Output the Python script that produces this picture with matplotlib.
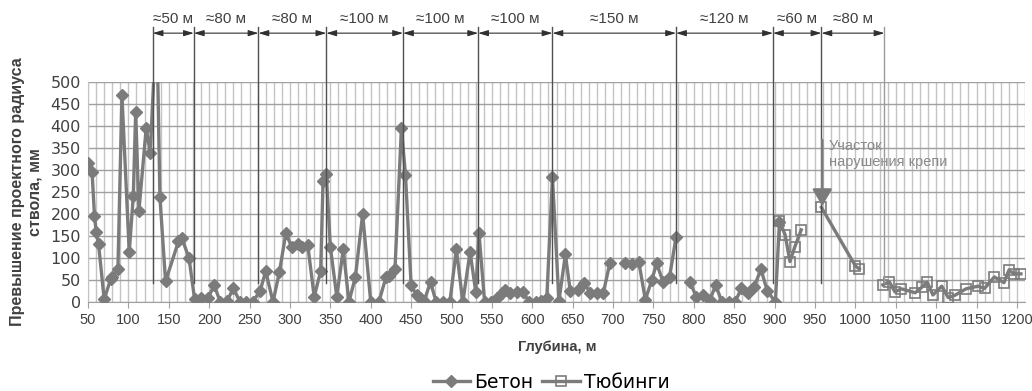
import numpy as np
import matplotlib.pyplot as plt
from matplotlib.ticker import MultipleLocator

plt.rcParams['font.family'] = ['Liberation Sans', 'DejaVu Sans']

# depth, m / excess over design radius, mm  (None = gap in the series)
beton_depth = [50, 55, 58, 60, 63, 70, 78, 80, 87, 92, 101, 106, 109, 113, 122, 127, 135, 139,
               146, 162, 166, 175, 182, 190, 199, 206, 214, 222, 230, 238, 246, 254, 263, 270,
               279, 287, 295, 302, 310, 315, 322, 330, 338, 341, 345, 350, 358, 366, 373, 381,
               390, 400, 410, 419, 422, 430, 438, 443, 450, 457, 461, 466, 474, 481, 490, 498,
               506, 514, 523, 530, 534, 541, 549, 556, 562, 566, 573, 581, 589, 596, 605, 611,
               618, 625, 633, 641, 647, 656, 664, 672, 680, 688, 696, 705, 715, 724, 732, 740,
               748, 754, 762, 770, 778, 786, 795, 803, 811, 820, 827, 835, 844, 851, 859, 867,
               875, 883, 891, 901, 906]
beton_excess = [315, 295, 196, 160, 132, 6, 52, 57, 75, 470, 113, 240, 432, 207, 395, 338, 650, 238,
                47, 138, 146, 100, 6, 8, 10, 38, 0, 2, 31, 1, 0, 1, 25, 70,
                0, 69, 157, 125, 132, 125, 130, 12, 70, 276, 290, 125, 12, 120, 0, 57,
                200, 0, 0, 57, 60, 75, 395, 289, 38, 15, 8, 2, 45, 0, 0, 0,
                120, 0, 114, 23, 157, 0, 0, 10, 20, 27, 20, 22, 22, 0, 0, 3,
                10, 283, 2, 108, 25, 27, 44, 20, 21, 21, 88, None, 88, 86, 90, 5,
                50, 88, 45, 57, 148, None, 46, 12, 15, 5, 38, 0, 0, 0, 31, 20,
                35, 75, 25, 0, 182]

tub_depth = [906, 913, 919, 925, 933, 945, 958, 1000, 1005, 1020, 1034, 1042, 1049, 1057, 1074,
             1082, 1089, 1096, 1107, 1115, 1123, 1137, 1152, 1160, 1172, 1184, 1190, 1197, 1205]
tub_excess = [183, 153, 92, 125, 164, None, 215, 82, 75, None, 39, 46, 23, 30, 21,
              33, 45, 16, 36, 10, 15, 30, 36, 31, 57, 44, 72, 64, 64]

bound_depth = [130, 181, 261, 345, 440, 533, 625, 778, 898, 958, 1036]
span_labels = ['≈50 м', '≈80 м', '≈80 м', '≈100 м', '≈100 м', '≈100 м',
               '≈150 м', '≈120 м', '≈60 м', '≈80 м']

beton_excess = np.array(beton_excess, dtype=float)
tub_excess = np.array(tub_excess, dtype=float)

grey = '#7b7b7b'
dark = '#404040'

fig = plt.figure(figsize=(10.32, 3.91), dpi=100)
ax = fig.add_axes([0.0853, 0.2276, 0.9079, 0.5627])

ax.plot(beton_depth, beton_excess, color=grey, lw=2.4, marker='D', ms=6.5,
        mfc=grey, mec=grey, label='Бетон', zorder=3)
ax.plot(tub_depth, tub_excess, color=grey, lw=2.4, marker='s', ms=7.5,
        mfc='none', mec=grey, mew=1.2, label='Тюбинги', zorder=3)

ax.set_xlim(50, 1210)
ax.set_ylim(0, 500)
ax.xaxis.set_major_locator(MultipleLocator(50))
ax.xaxis.set_minor_locator(MultipleLocator(10))
ax.yaxis.set_major_locator(MultipleLocator(50))
ax.grid(which='major', axis='y', color='#a0a0a0', lw=1)
ax.grid(which='both', axis='x', color='#c4c4c4', lw=1)
ax.set_axisbelow(True)
for s in ['top', 'right']:
    ax.spines[s].set_visible(False)
ax.spines['left'].set_color('#c4c4c4')
ax.spines['bottom'].set_color('#a0a0a0')
ax.tick_params(axis='x', which='major', length=4, color='#a0a0a0',
               labelsize=10.5, labelcolor=dark, pad=4)
ax.tick_params(axis='x', which='minor', length=0)
ax.tick_params(axis='y', length=0, labelcolor=dark, pad=5)
for t in ax.get_yticklabels():
    t.set_fontfamily('DejaVu Sans')
    t.set_fontsize(11.5)

# section boundaries and dimension arrows above the chart
for i, d in enumerate(bound_depth):
    c = '#9a9a9a' if i == len(bound_depth) - 1 else '#505050'
    ax.plot([d, d], [43, 625], color=c, lw=1, clip_on=False, zorder=4)
for a, b, lab in zip(bound_depth[:-1], bound_depth[1:], span_labels):
    ax.annotate('', xy=(b, 611), xytext=(a, 611), annotation_clip=False,
                arrowprops=dict(arrowstyle='<|-|>,head_length=0.6,head_width=0.18',
                                color='#303030', lw=0.8, mutation_scale=10,
                                shrinkA=0, shrinkB=0))
    ax.text((a + b) / 2, 643, lab, ha='center', va='center', fontsize=11,
            color=dark, clip_on=False)

# damaged lining note
ax.annotate('', xy=(959, 218), xytext=(959, 368),
            arrowprops=dict(arrowstyle='-|>,head_length=0.85,head_width=0.5',
                            color=grey, lw=1.8, mutation_scale=12,
                            shrinkA=0, shrinkB=0), zorder=5)
ax.text(967, 370, 'Участок\nнарушения крепи', ha='left', va='top', fontsize=10.5,
        color='#8a8a8a', linespacing=1.15)

fig.text(557 / 1032, 1 - 347 / 391, 'Глубина, м', ha='center', va='center',
         fontsize=10.5, fontweight='bold', color=dark)
fig.text(26 / 1032, 1 - 192 / 391, 'Превышение проектного радиуса\nствола, мм',
         rotation=90, ha='center', va='center', fontsize=11.5, fontweight='bold',
         color=dark, multialignment='center', linespacing=1.2)

fig.legend(loc='center', bbox_to_anchor=(551 / 1032, 1 - 382 / 391), ncol=2,
           frameon=False, prop={'family': 'DejaVu Sans', 'size': 13.5},
           handlelength=2, columnspacing=0.5, handletextpad=0.2, borderaxespad=0)

fig.savefig('out.png', dpi=100)
